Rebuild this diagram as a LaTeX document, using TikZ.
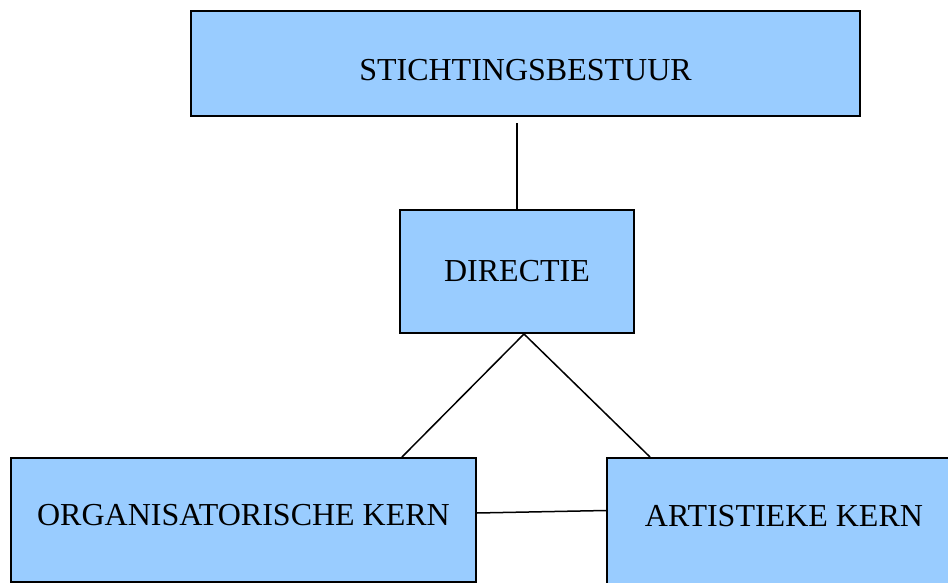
\documentclass[tikz,border=0pt]{standalone}
\usepackage{fontspec}
\setmainfont{Liberation Serif}
\usepackage{xcolor}
\definecolor{boxblue}{HTML}{99CCFF}

\begin{document}
\begin{tikzpicture}[x=1pt, y=-1pt,
     orgbox/.style={draw=black, line width=2pt, fill=boxblue, inner sep=0pt,
       font=\fontsize{32}{36}\selectfont},
     link/.style={draw=black, line width=1.5pt}]
    \useasboundingbox (0,0) rectangle (948,583);
    %boxes
    \node[orgbox, minimum width=669pt, minimum height=105pt, text height=34pt, text depth=0pt] (bestuur) at (525.5,64) {STICHTINGSBESTUUR};
    \node[orgbox, minimum width=234pt, minimum height=123pt] (directie) at (517,271.5) {DIRECTIE};
    \node[orgbox, minimum width=465pt, minimum height=124pt, text height=10.5pt, text depth=0pt] (orgkern) at (243.5,520) {ORGANISATORISCHE KERN};
    \node[orgbox, minimum width=354pt, minimum height=128pt, text height=9pt, text depth=0pt] (artkern) at (784,522) {ARTISTIEKE KERN};
    %lines
    \draw[link, shorten >=6pt] (directie.north) -- (directie.north |- bestuur.south);
    \draw[link] ([xshift=7pt]directie.south) -- ([xshift=-75pt]orgkern.north east);
    \draw[link] ([xshift=7pt]directie.south) -- ([xshift=44pt]artkern.north west);
    \draw[link] ([yshift=7pt]orgkern.east) -- ([yshift=11.5pt]artkern.west);
\end{tikzpicture}
\end{document}
